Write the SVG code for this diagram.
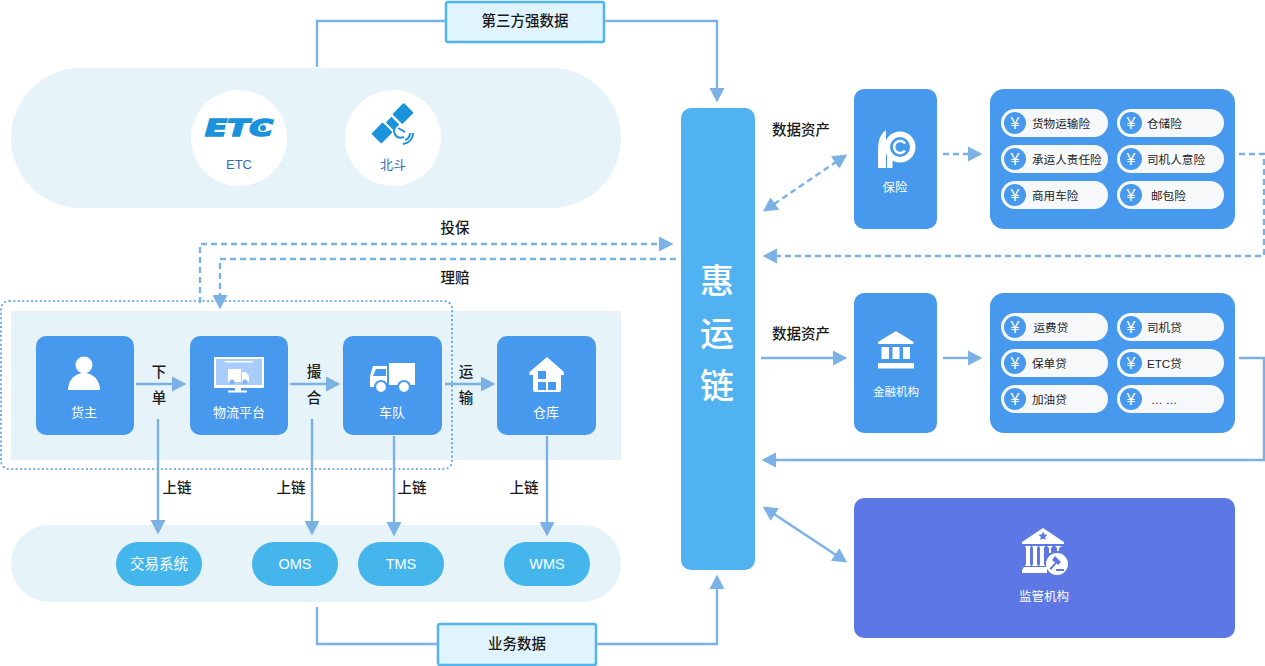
<svg xmlns="http://www.w3.org/2000/svg" xmlns:xlink="http://www.w3.org/1999/xlink" width="1265" height="666" viewBox="0 0 1265 666">
<style>
text{font-family:"Liberation Sans","Noto Sans CJK SC",sans-serif;text-anchor:middle;dominant-baseline:central}
.band{fill:#e6f3f9}
.node{fill:#4699ec}
.sys{fill:#45b6ec}
.w{fill:#fff}
.b{fill:#4699ec}
.nl{fill:#fff;font-size:13px}
.st{fill:#fff;font-size:14.5px}
.lb{fill:#1a1a1a;font-size:14.5px;font-weight:500}
.bx{fill:#e0f4fd;stroke:#52b5ee;stroke-width:2.5}
.pill{fill:#f7f8fa}
.it{fill:#222;font-size:11.6px;text-anchor:start}
.yen{fill:#fff;font-size:16px}
.big{fill:#fff;font-size:34px;font-weight:500}
.ln{fill:none;stroke:#7ab2e8;stroke-width:2.4}
.da{stroke-dasharray:6 4}
.ah{marker-end:url(#a)}
.ahs{marker-start:url(#a)}
</style>
<defs>
<marker id="a" markerUnits="userSpaceOnUse" markerWidth="16" markerHeight="16" viewBox="0 0 16 16" refX="1" refY="8" orient="auto-start-reverse"><path d="M0,0.5 L14.5,8 L0,15.5Z" fill="#7cb1e5"/></marker>
<g id="chip"><circle r="11" class="b"/><text y="0" class="yen">¥</text></g>
</defs>

<g id="upper-band">
<rect class="band" x="11" y="68" width="610" height="140" rx="70"/>
<g id="etc"><circle cx="239" cy="138" r="48" class="w"/>
<text x="239" y="128" style="font-family:'DejaVu Sans',sans-serif;font-weight:700;font-style:italic;font-size:23px;fill:#1b93dc;stroke:#1b93dc;stroke-width:1.600" textLength="68" lengthAdjust="spacingAndGlyphs">ETC</text>
<circle cx="263" cy="128" r="3" fill="#1b93dc"/>
<text x="239" y="164" style="font-size:13px;fill:#2f6fb5">ETC</text></g>
<g id="beidou"><circle cx="393" cy="138" r="48" class="w"/>
<g fill="#1b93dc"><rect x="-8" y="-7" width="16" height="14" rx="1" transform="translate(403,113.500) rotate(-45)"/><rect x="-8" y="-7" width="16" height="14" rx="1" transform="translate(382,133) rotate(-45)"/><rect x="-4" y="-5.500" width="8" height="11" transform="translate(392.500,123.500) rotate(-45)"/></g>
<g fill="none" stroke="#1b93dc" stroke-width="2"><path d="M397,124 C391,131 395,140 404,137"/><path d="M398,128 L405,132"/><path d="M405,140 C408,139 410,136 410,133"/><path d="M403,144 C409,143 413,139 413,133"/></g>
<text x="393" y="164" style="font-size:13px;fill:#2f6fb5">北斗</text></g>
</g>

<rect class="band" x="11" y="311" width="610" height="149"/>
<rect x="1" y="301" width="451" height="168" rx="8" fill="none" stroke="#4a9ae8" stroke-width="1.6" stroke-dasharray="2 2.4"/>
<rect class="band" x="11" y="525" width="610" height="77" rx="38.500"/>

<g id="huozhu"><rect class="node" x="36" y="336" width="98" height="99" rx="10"/>
<circle cx="84" cy="365" r="8.500" class="w"/><path class="w" d="M68,390 C68,380 75,373 84,373 C93,373 100,380 100,390Z"/>
<text x="84" y="412" class="nl">货主</text></g>

<g id="platform"><rect class="node" x="190" y="336" width="98" height="99" rx="10"/>
<rect x="214" y="357" width="50" height="31" rx="1" class="w"/><rect x="216" y="359" width="46" height="26" fill="#a9cdfa"/>
<rect x="225" y="361" width="28" height="1.500" class="w"/>
<rect x="228" y="369" width="13" height="13" class="w"/><path class="w" d="M242,372 H246 L249,376 V382 H242Z"/><circle cx="232" cy="382" r="2.500" fill="#7eb5f0"/><circle cx="245" cy="382" r="2.500" fill="#7eb5f0"/>
<rect x="235" y="388" width="6" height="3" class="w"/><rect x="228" y="390.500" width="19" height="2" class="w"/>
<text x="239" y="412" class="nl">物流平台</text></g>

<g id="fleet"><rect class="node" x="343" y="336" width="99" height="99" rx="10"/>
<rect x="389" y="363" width="26" height="22" class="w"/><path class="w" d="M373,366 H387 V387 H370 V376Z"/><path class="b" d="M376,369 H386 V376 H373Z"/>
<circle cx="381" cy="387" r="6" class="w" stroke="#4699ec" stroke-width="2.200"/><circle cx="404" cy="387" r="6" class="w" stroke="#4699ec" stroke-width="2.200"/>
<text x="392" y="412" class="nl">车队</text></g>

<g id="warehouse"><rect class="node" x="497" y="336" width="99" height="99" rx="10"/>
<path class="w" d="M547,357 L564,372 V375 H561 V390 Q561,392 559,392 H535 Q533,392 533,390 V375 H529.500 V372Z"/>
<rect class="b" x="538" y="371" width="8" height="8"/><rect class="b" x="538" y="382" width="8" height="8"/><rect class="b" x="548" y="382" width="8" height="8"/>
<text x="546" y="412" class="nl">仓库</text></g>

<g id="jiaoyi"><rect class="sys" x="116" y="542" width="86" height="44" rx="22"/><text x="159" y="564" class="st">交易系统</text></g>
<g id="oms"><rect class="sys" x="252" y="542" width="86" height="44" rx="22"/><text x="295" y="564" class="st">OMS</text></g>
<g id="tms"><rect class="sys" x="358" y="542" width="86" height="44" rx="22"/><text x="401" y="564" class="st">TMS</text></g>
<g id="wms"><rect class="sys" x="504" y="542" width="86" height="44" rx="22"/><text x="547" y="564" class="st">WMS</text></g>

<g id="third-party"><rect class="bx" x="446" y="2" width="158" height="40" rx="2"/><text x="525" y="21" class="lb">第三方强数据</text></g>
<g id="biz-data"><rect class="bx" x="438" y="624" width="158" height="41" rx="2"/><text x="517" y="644" class="lb">业务数据</text></g>

<g id="huiyun"><rect x="681" y="108" width="74" height="462" rx="10" fill="#51b2f1"/>
<text x="717" y="281" class="big">惠</text><text x="717" y="334" class="big">运</text><text x="717" y="386" class="big">链</text></g>

<g id="insurance"><rect class="node" x="854" y="89" width="83" height="140" rx="10"/>
<path class="w" d="M878,168 V150 Q878,135 886,130 V168Z"/>
<circle cx="900" cy="147" r="15.500" class="w"/><rect x="887" y="147" width="5.500" height="21" class="w"/>
<circle cx="900" cy="147" r="10" class="b"/><path d="M905,143.500 A6,6 0 1 0 905,150.500" fill="none" stroke="#fff" stroke-width="2.500"/>
<text x="895" y="188" class="nl" style="font-size:12.500px">保险</text></g>

<g id="insurance-list"><rect class="node" x="990" y="89" width="245" height="140" rx="14"/>
<rect class="pill" x="1001" y="109" width="107" height="28" rx="14"/><rect class="pill" x="1117" y="109" width="107" height="28" rx="14"/>
<rect class="pill" x="1001" y="145" width="107" height="28" rx="14"/><rect class="pill" x="1117" y="145" width="107" height="28" rx="14"/>
<rect class="pill" x="1001" y="181" width="107" height="28" rx="14"/><rect class="pill" x="1117" y="181" width="107" height="28" rx="14"/>
<use xlink:href="#chip" href="#chip" x="1015" y="123"/><use xlink:href="#chip" href="#chip" x="1131" y="123"/>
<use xlink:href="#chip" href="#chip" x="1015" y="159"/><use xlink:href="#chip" href="#chip" x="1131" y="159"/>
<use xlink:href="#chip" href="#chip" x="1015" y="195"/><use xlink:href="#chip" href="#chip" x="1131" y="195"/>
<text class="it" x="1032" y="123">货物运输险</text><text class="it" x="1147" y="123">仓储险</text>
<text class="it" x="1032" y="159">承运人责任险</text><text class="it" x="1147" y="159">司机人意险</text>
<text class="it" x="1032" y="195">商用车险</text><text class="it" x="1151" y="195">邮包险</text></g>

<g id="finance"><rect class="node" x="854" y="293" width="83" height="140" rx="10"/>
<path class="w" d="M896,331 L913.500,342 V344 H878 V342Z"/>
<rect class="w" x="881.500" y="347" width="7.500" height="12"/><rect class="w" x="892.500" y="347" width="7" height="12"/><rect class="w" x="903" y="347" width="7" height="12"/>
<rect class="w" x="878" y="363" width="36" height="5.500"/>
<text x="896" y="392" class="nl" style="font-size:11.500px">金融机构</text></g>

<g id="finance-list"><rect class="node" x="990" y="293" width="245" height="140" rx="14"/>
<rect class="pill" x="1001" y="313" width="107" height="28" rx="14"/><rect class="pill" x="1117" y="313" width="107" height="28" rx="14"/>
<rect class="pill" x="1001" y="349" width="107" height="28" rx="14"/><rect class="pill" x="1117" y="349" width="107" height="28" rx="14"/>
<rect class="pill" x="1001" y="385" width="107" height="28" rx="14"/><rect class="pill" x="1117" y="385" width="107" height="28" rx="14"/>
<use xlink:href="#chip" href="#chip" x="1015" y="327"/><use xlink:href="#chip" href="#chip" x="1131" y="327"/>
<use xlink:href="#chip" href="#chip" x="1015" y="363"/><use xlink:href="#chip" href="#chip" x="1131" y="363"/>
<use xlink:href="#chip" href="#chip" x="1015" y="399"/><use xlink:href="#chip" href="#chip" x="1131" y="399"/>
<text class="it" x="1033.500" y="327">运费贷</text><text class="it" x="1147" y="327">司机贷</text>
<text class="it" x="1032" y="363">保单贷</text><text class="it" x="1147" y="363">ETC贷</text>
<text class="it" x="1032" y="399">加油贷</text><text class="it" x="1151" y="399">… …</text></g>

<g id="regulator"><rect x="854" y="498" width="381" height="140" rx="10" fill="#5d78e4"/>
<path class="w" d="M1043,528 L1064,542 V544 H1022 V542Z"/><path d="M1043,531.500 l1.300,3 3.200,.3 -2.400,2.100 .7,3.100 -2.800,-1.600 -2.800,1.600 .7,-3.100 -2.400,-2.100 3.200,-.3Z" fill="#5d78e4"/>
<path class="w" d="M1025,546 H1031 L1030,548 V564 L1031,566 H1025 L1026,564 V548Z M1032,546 H1038 L1037,548 V564 L1038,566 H1032 L1033,564 V548Z M1039,546 H1045 L1044,548 V564 L1045,566 H1039 L1040,564 V548Z M1047,546 H1053 L1051,548 V553 H1049 V548Z M1055,546 H1062 L1059,548 V551 H1057 V548Z"/>
<path class="w" d="M1024,567 H1047 V573 H1022 V570Z"/>
<circle cx="1057" cy="564" r="11" class="w"/>
<path d="M1055,556 L1061,562 L1058,565 L1056.500,563.500 L1051,570 L1049.500,568.500 L1055,562.500 L1052,560Z M1056,569 H1064 V571 H1056Z" fill="#5d78e4"/>
<text x="1044" y="597" class="nl" style="font-size:12.500px">监管机构</text></g>

<g id="connectors">
<path class="ln ah" d="M317,67 V21 H446 M604,21 H717 V89"/>
<path class="ln ah" d="M317,607 V644 H438 M596,644 H717 V588"/>
<path class="ln da ah" d="M200,303 V244 H660"/>
<path class="ln da ah" d="M676,259 H220 V296"/>
<path class="ln ah" d="M136,384 H173"/>
<path class="ln ah" d="M290,384 H327"/>
<path class="ln ah" d="M445,384 H482"/>
<path class="ln ah" d="M158,419 V521"/>
<path class="ln ah" d="M312,419 V522"/>
<path class="ln ah" d="M394,436 V523"/>
<path class="ln ah" d="M547,436 V523"/>
<path class="ln da ah ahs" d="M774,204 L836,162"/>
<path class="ln da ah" d="M943,154 H969"/>
<path class="ln da ah" d="M1239,154 H1264 V256 H776"/>
<path class="ln ah" d="M761,358 H834"/>
<path class="ln ah" d="M943,358 H969"/>
<path class="ln ah" d="M1239,358 H1264 V460 H775"/>
<path class="ln ah ahs" d="M774,514 L836,555"/>
</g>

<g id="labels">
<text x="455" y="228" class="lb">投保</text><text x="455" y="278" class="lb">理赔</text>
<text x="159" y="372" class="lb">下</text><text x="159" y="398" class="lb">单</text>
<text x="314" y="372" class="lb">撮</text><text x="314" y="398" class="lb">合</text>
<text x="466" y="372" class="lb">运</text><text x="466" y="398" class="lb">输</text>
<text x="177" y="488" class="lb">上链</text><text x="291" y="488" class="lb">上链</text><text x="412" y="488" class="lb">上链</text><text x="524" y="488" class="lb">上链</text>
<text x="801" y="130" class="lb">数据资产</text><text x="801" y="334" class="lb">数据资产</text>
</g>
</svg>
